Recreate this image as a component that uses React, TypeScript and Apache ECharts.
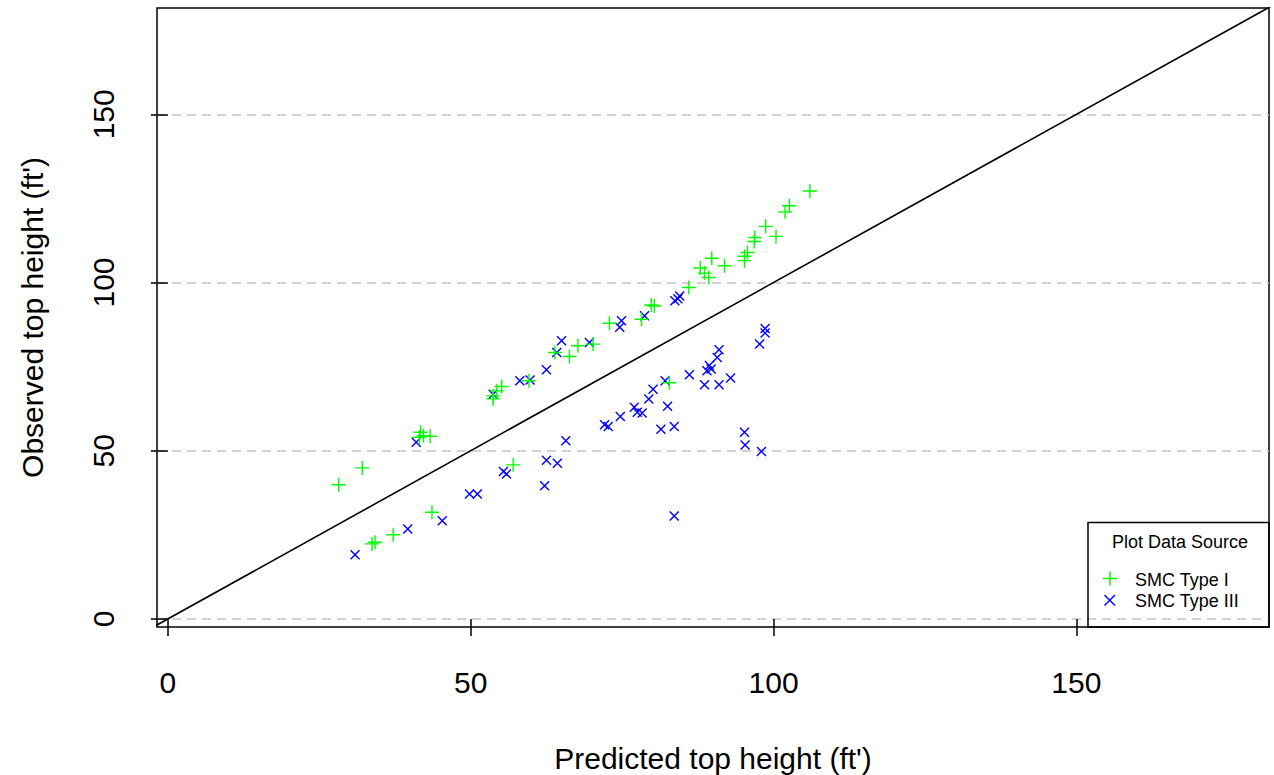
import React, { useEffect, useRef } from "react";
import * as echarts from "echarts";

const xTicks = [0, 50, 100, 150];
const yTicks = [0, 50, 100, 150];
const xTitle = "Predicted top height (ft')";
const yTitle = "Observed top height (ft')";
const legendTitle = "Plot Data Source";
const seriesNames = ["SMC Type I", "SMC Type III"];

const typeI: [number, number][] = [
  [28.2, 39.9], [32.1, 44.9], [33.7, 22.3], [34.2, 22.8], [37.2, 25.0], [43.6, 31.7],
  [41.7, 55.5], [42.2, 54.5], [43.3, 54.3], [41.5, 54.0], [57.0, 45.8], [53.7, 65.4],
  [53.7, 66.3], [54.3, 67.8], [55.1, 69.1], [59.6, 70.8], [63.9, 79.2], [66.3, 78.0],
  [67.7, 81.2], [70.2, 81.7], [72.9, 87.9], [78.2, 89.1], [79.8, 93.3], [80.3, 93.0],
  [82.8, 70.2], [86.0, 98.5], [87.9, 104.3], [88.6, 102.8], [89.3, 101.5], [89.8, 107.2],
  [91.9, 105.0], [95.2, 106.5], [95.2, 107.8], [95.7, 108.9], [96.8, 112.2], [96.9, 113.4],
  [98.7, 116.7], [100.4, 113.7], [101.9, 121.0], [102.6, 122.8], [106.0, 127.2],
];

const typeIII: [number, number][] = [
  [30.9, 19.1], [39.6, 26.7], [41.0, 52.5], [45.3, 29.2], [49.8, 37.1], [51.1, 37.1],
  [53.7, 66.8], [55.4, 43.8], [55.9, 43.1], [58.1, 70.8], [59.8, 71.0], [62.2, 39.6],
  [62.5, 47.2], [62.5, 74.1], [64.2, 79.2], [64.3, 46.3], [65.0, 82.7], [65.7, 53.0],
  [69.6, 82.2], [72.1, 57.7], [72.7, 57.2], [74.6, 86.7], [74.9, 88.6], [74.7, 60.2],
  [77.0, 62.9], [77.5, 61.4], [78.3, 61.2], [78.7, 90.1], [79.4, 65.4], [80.1, 68.3],
  [81.4, 56.4], [82.1, 70.8], [82.5, 63.2], [83.6, 57.2], [83.6, 30.6], [83.7, 94.6],
  [84.2, 95.2], [84.5, 96.0], [86.1, 72.6], [88.6, 69.6], [89.0, 73.8], [89.4, 75.3],
  [89.7, 74.3], [90.7, 77.7], [91.0, 80.0], [91.0, 69.6], [92.9, 71.6], [95.2, 55.5],
  [95.3, 51.7], [97.7, 81.7], [98.0, 49.8], [98.6, 85.0], [98.6, 86.3],
];

const identityLine: [number, number][] = [[-10, -10], [200, 200]];

const PLUS = "path://M0,6.3H14V7.7H0Z M6.3,0H7.7V14H6.3Z";
const CROSS = "path://M0,1L1,0L10,9L9,10Z M9,0L10,1L1,10L0,9Z";
const FONT = "'Liberation Sans', Arial, Helvetica, sans-serif";

export default function App() {
  const ref = useRef<HTMLDivElement>(null);
  useEffect(() => {
    if (!ref.current) return;
    const chart = echarts.init(ref.current, null, { renderer: "svg" });
    const axisCommon = {
      type: "value" as const,
      nameLocation: "middle" as const,
      nameTextStyle: { fontSize: 30, color: "#000", fontFamily: FONT },
      axisLine: { show: false },
      axisTick: { show: true, inside: false, length: 17, lineStyle: { color: "#000", width: 1.5 } },
    };
    chart.setOption({
      animation: false,
      backgroundColor: "#fff",
      textStyle: { fontFamily: FONT },
      grid: {
        left: 157, top: 8, width: 1112, height: 619,
        show: true, borderColor: "#000", borderWidth: 1.5, backgroundColor: "transparent",
        outerBoundsMode: "none",
      },
      xAxis: {
        ...axisCommon,
        min: -1.8, max: 181.8,
        name: xTitle, nameGap: 116,
        axisTick: { ...axisCommon.axisTick, customValues: xTicks },
        axisLabel: { customValues: xTicks, fontSize: 30, color: "#000", margin: 40, fontFamily: FONT },
        splitLine: { show: false },
      },
      yAxis: {
        ...axisCommon,
        min: -2.4, max: 181.6,
        name: yTitle, nameGap: 110, nameRotate: 90,
        axisTick: { ...axisCommon.axisTick, customValues: yTicks },
        axisLabel: { customValues: yTicks, fontSize: 30, color: "#000", margin: 39, rotate: 90, fontFamily: FONT },
        splitLine: { show: true, lineStyle: { color: "#c4c4c4", width: 1.5, type: [9, 6] } },
      },
      series: [
        {
          type: "line", data: identityLine, showSymbol: false, symbol: "none", clip: true,
          lineStyle: { color: "#000", width: 1.6 }, silent: true, z: 1,
        },
        {
          name: seriesNames[0], type: "scatter", data: typeI, symbol: PLUS, symbolSize: 14,
          itemStyle: { color: "#00ff00", opacity: 1 }, z: 3,
        },
        {
          name: seriesNames[1], type: "scatter", data: typeIII, symbol: CROSS, symbolSize: 10,
          itemStyle: { color: "#0000ff", opacity: 1 }, z: 2,
        },
      ],
      graphic: [
        {
          type: "rect", shape: { x: 1088, y: 522.5, width: 181, height: 104.5 },
          style: { fill: "none", stroke: "#000", lineWidth: 1.5 }, z: 10,
        },
        {
          type: "text", x: 1180, y: 541.5,
          style: { text: legendTitle, fontSize: 18, fontFamily: FONT, fill: "#000", align: "center", verticalAlign: "middle" }, z: 10,
        },
        { type: "line", shape: { x1: 1103, y1: 578.5, x2: 1117, y2: 578.5 }, style: { stroke: "#00ff00", lineWidth: 1.5 }, z: 10 },
        { type: "line", shape: { x1: 1110, y1: 571.5, x2: 1110, y2: 585.5 }, style: { stroke: "#00ff00", lineWidth: 1.5 }, z: 10 },
        {
          type: "text", x: 1135, y: 579.5,
          style: { text: seriesNames[0], fontSize: 18, fontFamily: FONT, fill: "#000", align: "left", verticalAlign: "middle" }, z: 10,
        },
        { type: "line", shape: { x1: 1104.5, y1: 595, x2: 1115, y2: 605.5 }, style: { stroke: "#0000ff", lineWidth: 1.4 }, z: 10 },
        { type: "line", shape: { x1: 1115, y1: 595, x2: 1104.5, y2: 605.5 }, style: { stroke: "#0000ff", lineWidth: 1.4 }, z: 10 },
        {
          type: "text", x: 1135, y: 601,
          style: { text: seriesNames[1], fontSize: 18, fontFamily: FONT, fill: "#000", align: "left", verticalAlign: "middle" }, z: 10,
        },
      ],
    });
    return () => chart.dispose();
  }, []);
  return (
    <div
      ref={ref}
      style={{ position: "fixed", left: 0, top: 0, width: 1274, height: 775, background: "#fff" }}
    />
  );
}
